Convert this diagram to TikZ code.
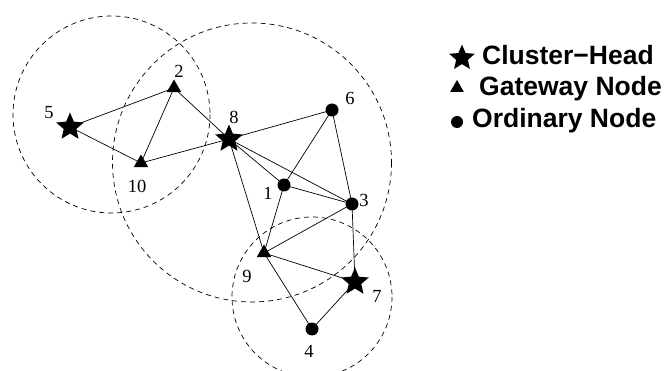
\documentclass[tikz,border=0pt]{standalone}
\usepackage{fontspec}
\setmainfont{Liberation Serif}
\newfontfamily\legendfont{Liberation Sans}
\usetikzlibrary{shapes.geometric}
\tikzset{
    headnode/.style={star,star points=5,star point ratio=2.2,fill=black,inner sep=0pt,minimum size=29pt},
    gatenode/.style={regular polygon,regular polygon sides=3,fill=black,inner sep=0pt,minimum size=17pt},
    ordnode/.style={circle,fill=black,inner sep=0pt,minimum size=13pt},
    numlbl/.style={inner sep=0.75pt,font=\fontsize{18.5}{18.5}\selectfont},
    keylbl/.style={anchor=base west,inner sep=0pt,font=\legendfont\bfseries\fontsize{26.5}{26.5}\selectfont},
    rangecirc/.style={dash pattern=on 5pt off 4pt,line width=0.7pt},
    link/.style={line width=0.7pt}
}
\begin{document}
\begin{tikzpicture}[x=1pt,y=-1pt]
        \useasboundingbox (0,0) rectangle (669,371);
        % cluster ranges
        \draw [rangecirc] (111.5,114.5) circle (98.5);
        \draw [rangecirc] (252,162.5) circle (139.5);
        \draw [rangecirc] (312,297) circle (80);

        % nodes
        \node [headnode] (n5) at (70,127) {};
        \node [gatenode] (n2) at (174,88) {};
        \node [gatenode] (n10) at (141,163) {};
        \node [headnode] (n8) at (229,139) {};
        \node [ordnode] (n6) at (332,110) {};
        \node [ordnode] (n1) at (284,185) {};
        \node [ordnode] (n3) at (352,204) {};
        \node [gatenode] (n9) at (264,253) {};
        \node [headnode] (n7) at (355,282) {};
        \node [ordnode] (n4) at (312,329) {};

        % links
        \draw [link] (n5.center) -- (n2.center) -- (n10.center) -- (n5.center);
        \draw [link] (n2.center) -- (n8.center) -- (n10.center);
        \draw [link] (n8.center) -- (n6.center) -- (n1.center) -- (n8.center) -- (n3.center);
        \draw [link] (n6.center) -- (n3.center) -- (n1.center) -- (n9.center) -- (n8.center);
        \draw [link] (n3.center) -- (n9.center) -- (n7.center) -- (n3.center);
        \draw [link] (n9.center) -- (n4.center) -- (n7.center);

        % node numbers
        \node [numlbl] (l5) at (49,113) {5};
        \node [numlbl] (l2) at (179,71) {2};
        \node [numlbl] (l10) at (137,186) {10};
        \node [numlbl] (l8) at (234,117) {8};
        \node [numlbl] (l6) at (350,98) {6};
        \node [numlbl] (l1) at (268,193) {1};
        \node [numlbl] (l3) at (364,200) {3};
        \node [numlbl] (l9) at (247,276) {9};
        \node [numlbl] (l7) at (377,296) {7};
        \node [numlbl] (l4) at (309,351) {4};

        % legend
        \node [headnode,minimum size=27pt] (k1) at (462,58) {};
        \node [gatenode,minimum size=16pt] (k2) at (457,88) {};
        \node [ordnode,minimum size=12pt] (k3) at (457,122) {};
        \node [keylbl] (t1) at (482,65) {Cluster−Head};
        \node [keylbl] (t2) at (479,96) {Gateway Node};
        \node [keylbl] (t3) at (472,128) {Ordinary Node};
\end{tikzpicture}
\end{document}
